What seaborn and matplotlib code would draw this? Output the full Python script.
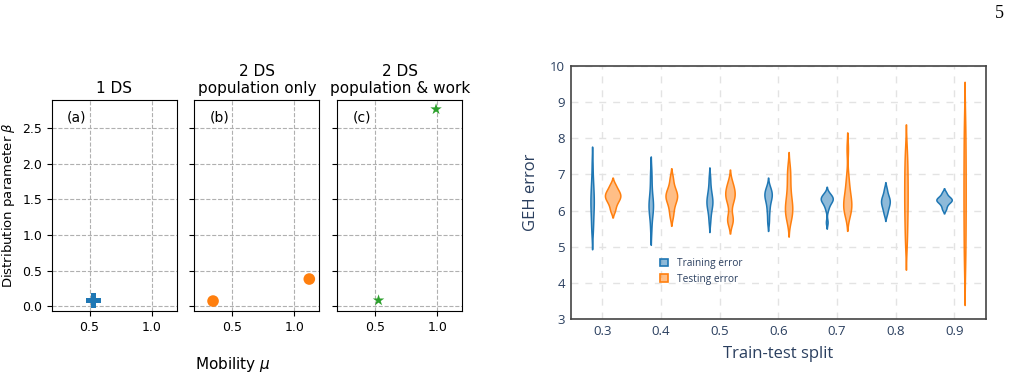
import numpy as np
import pandas as pd
import matplotlib
matplotlib.use("Agg")
import matplotlib.pyplot as plt
from matplotlib.patches import Patch
import seaborn as sns

# ---------------- Left panels data ----------------
panel_titles = ["1 DS", "2 DS\npopulation only", "2 DS\npopulation & work"]
panel_tags = ["(a)", "(b)", "(c)"]
mu_a = [0.53]
beta_a = [0.08]
mu_b = [0.35, 1.12]
beta_b = [0.07, 0.38]
mu_c = [0.53, 0.99]
beta_c = [0.08, 2.77]
x_ticks_left = [0.5, 1.0]
y_ticks_left = [0.0, 0.5, 1.0, 1.5, 2.0, 2.5]

# ---------------- Right panel data ----------------
splits = [0.3, 0.4, 0.5, 0.6, 0.7, 0.8, 0.9]
train_err = {
    0.3: [5.4, 5.6, 5.8, 5.95, 6.1, 6.2, 6.3, 6.4, 6.55, 6.7, 6.9, 7.3],
    0.4: [5.45, 5.75, 5.9, 6.0, 6.08, 6.15, 6.22, 6.3, 6.42, 6.6, 6.85, 7.1],
    0.5: [5.7, 5.92, 6.05, 6.14, 6.2, 6.26, 6.32, 6.4, 6.5, 6.65, 6.9],
    0.6: [5.7, 5.95, 6.12, 6.26, 6.34, 6.4, 6.45, 6.5, 6.57, 6.65],
    0.7: [5.68, 6.02, 6.13, 6.19, 6.24, 6.28, 6.3, 6.32, 6.34, 6.37, 6.4, 6.44, 6.48],
    0.8: [5.9, 6.02, 6.1, 6.17, 6.22, 6.27, 6.32, 6.38, 6.46, 6.6],
    0.9: [6.04, 6.14, 6.21, 6.25, 6.28, 6.3, 6.33, 6.36, 6.41, 6.5],
}
test_err = {
    0.3: [6.0, 6.15, 6.25, 6.32, 6.37, 6.42, 6.47, 6.53, 6.6, 6.72],
    0.4: [5.85, 6.05, 6.2, 6.3, 6.36, 6.42, 6.48, 6.56, 6.68, 6.9],
    0.5: [5.7, 5.75, 5.8, 6.15, 6.3, 6.38, 6.44, 6.5, 6.58, 6.68, 6.8],
    0.6: [5.7, 5.85, 5.95, 6.03, 6.12, 6.22, 6.35, 6.52, 6.75, 6.98, 7.2],
    0.7: [5.9, 5.95, 6.05, 6.13, 6.2, 6.28, 6.38, 6.52, 6.7, 6.95, 7.7],
    0.8: [5.1, 5.45, 5.8, 6.05, 6.3, 6.55, 6.8, 7.05, 7.35, 7.65],
    0.9: [4.5, 4.95, 5.4, 5.8, 6.15, 6.5, 6.85, 7.2, 7.6, 8.05, 8.45],
}
series_names = ["Training error", "Testing error"]
y_ticks_right = [3, 4, 5, 6, 7, 8, 9, 10]

# ---------------- figure ----------------
W, H = 1011, 378
fig = plt.figure(figsize=(W / 100, H / 100), dpi=100)

blue, orange, green = "#1f77b4", "#ff7f0e", "#2ca02c"
left_px = [52, 194.3, 337.3]
axes_left = []
panel_data = [(mu_a, beta_a, "P", blue, 110),
              (mu_b, beta_b, "o", orange, 70),
              (mu_c, beta_c, "*", green, 75)]
for i, lp in enumerate(left_px):
    ax = fig.add_axes([lp / W, (H - 311) / H, 125 / W, 211 / H])
    mu, beta, mk, col, sz = panel_data[i]
    df = pd.DataFrame({"mu": mu, "beta": beta})
    sns.scatterplot(data=df, x="mu", y="beta", marker=mk, color=col, s=sz,
                    edgecolor="none", linewidth=0, ax=ax, zorder=3)
    ax.set_xlim(0.2, 1.2)
    ax.set_ylim(-0.07, 2.9)
    ax.set_xticks(x_ticks_left)
    ax.set_yticks(y_ticks_left)
    ax.grid(True, linestyle="--", color="#b0b0b0", linewidth=0.8)
    ax.set_axisbelow(True)
    ax.tick_params(labelsize=9)
    ax.set_xlabel("")
    ax.set_ylabel("")
    ax.set_title(panel_titles[i], fontsize=11, pad=5)
    ax.text(0.12, 0.916, panel_tags[i], transform=ax.transAxes, fontsize=10,
            ha="left", va="center")
    if i > 0:
        ax.set_yticklabels([])
    axes_left.append(ax)

axes_left[0].set_ylabel(r"Distribution parameter $\beta$", fontsize=9.5)
fig.text(233 / W, 1 - 364 / H, r"Mobility $\mu$", fontsize=11, ha="center", va="center")

# ---------------- right violin panel ----------------
rows = []
for s in splits:
    for v in train_err[s]:
        rows.append((s, v, series_names[0]))
    for v in test_err[s]:
        rows.append((s, v, series_names[1]))
vdf = pd.DataFrame(rows, columns=["split", "err", "set"])

txt = "#2a3f5f"
axr = fig.add_axes([570.7 / W, (H - 319.3) / H, 415.3 / W, 253.6 / H])
palette = {series_names[0]: blue, series_names[1]: orange}
sns.violinplot(data=vdf, x="split", y="err", hue="set", native_scale=True,
               dodge=True, width=0.7, gap=0.25, cut=2, inner=None,
               density_norm="area", bw_adjust=0.7, palette=palette,
               saturation=1, linewidth=1.1, legend=False, ax=axr)
for c in axr.collections:
    fc = c.get_facecolor()
    if len(fc):
        rgb = tuple(fc[0][:3])
        c.set_facecolor((*rgb, 0.5))
        c.set_edgecolor(rgb)
        c.set_linewidth(1.1)

axr.set_xlim(0.246, 0.954)
axr.set_ylim(3, 10)
axr.set_xticks(splits)
axr.set_xticklabels([f"{s:.1f}" for s in splits])
axr.set_yticks(y_ticks_right)
axr.grid(True, linestyle=(0, (5, 5)), color="#e3e3e3", linewidth=1.0)
axr.set_axisbelow(True)
for sp in axr.spines.values():
    sp.set_color("#444444")
    sp.set_linewidth(1.2)
axr.tick_params(length=0, pad=4, labelsize=9.5, labelcolor=txt)
for lab in axr.get_xticklabels() + axr.get_yticklabels():
    lab.set_family("Open Sans")
axr.set_xlabel("Train-test split", fontsize=12, color=txt, family="Open Sans", labelpad=6)
axr.set_ylabel("GEH error", fontsize=12, color=txt, family="Open Sans", labelpad=8)

handles = [Patch(facecolor=(*matplotlib.colors.to_rgb(blue), 0.5), edgecolor=blue, linewidth=1.2),
           Patch(facecolor=(*matplotlib.colors.to_rgb(orange), 0.5), edgecolor=orange, linewidth=1.2)]
leg = axr.legend(handles, series_names, loc="upper left",
                 bbox_to_anchor=((655 - 570.7) / 415.3, (319.3 - 253) / 253.6),
                 frameon=False, handlelength=0.8, handleheight=0.8,
                 handletextpad=0.9, labelspacing=0.45, borderpad=0,
                 prop={"family": "Open Sans", "size": 7.3})
for t in leg.get_texts():
    t.set_color(txt)

fig.text(999 / W, 1 - 14 / H, "5", fontsize=13, family="Liberation Serif",
         ha="center", va="center")

fig.savefig("out.png", dpi=100)
